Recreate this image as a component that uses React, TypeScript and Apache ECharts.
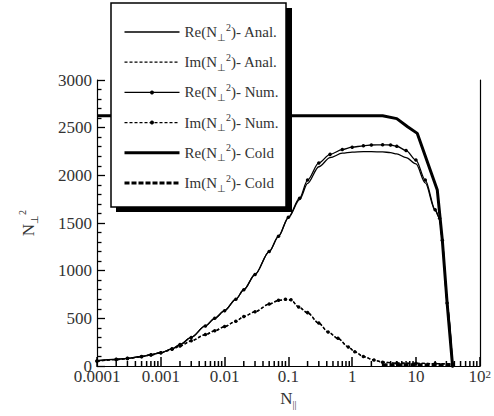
import React, { useEffect, useRef } from 'react';
import * as echarts from 'echarts';

// N_parallel values for the real-part curves
const reX = [0.0001, 0.0002, 0.0003, 0.0005, 0.0007, 0.001, 0.0015, 0.002, 0.003, 0.005, 0.007, 0.01, 0.015, 0.02, 0.03, 0.05, 0.07, 0.1, 0.15, 0.2, 0.3, 0.45, 0.7, 1, 1.5, 2, 3, 4, 5, 7, 10, 14, 20, 23.5, 25.9, 30.8, 37.5];
const reNum = [55, 70, 80, 100, 118, 140, 180, 225, 300, 420, 500, 580, 700, 800, 960, 1200, 1360, 1560, 1760, 1950, 2130, 2220, 2270, 2295, 2310, 2318, 2320, 2318, 2305, 2260, 2160, 1950, 1640, 1550, 1320, 660, 0];
const reAnal = [55, 70, 80, 100, 118, 140, 180, 225, 300, 420, 500, 580, 700, 800, 960, 1200, 1360, 1555, 1745, 1915, 2090, 2185, 2232, 2243, 2248, 2248, 2246, 2238, 2225, 2185, 2120, 1920, 1630, 1550, 1320, 660, 0];

// N_parallel values for the imaginary-part curves
const imX = [0.0001, 0.0002, 0.0003, 0.0005, 0.0007, 0.001, 0.0015, 0.002, 0.003, 0.005, 0.007, 0.01, 0.015, 0.02, 0.03, 0.05, 0.07, 0.09, 0.11, 0.145, 0.2, 0.3, 0.42, 0.6, 0.87, 1.1, 1.5, 2.2, 3, 5, 10, 20, 37.5];
const imNum = [50, 68, 78, 98, 115, 138, 175, 210, 265, 330, 370, 415, 470, 520, 570, 650, 690, 700, 695, 620, 560, 450, 357, 290, 200, 150, 100, 63, 40, 30, 28, 25, 20];
const imAnal = [50, 68, 78, 98, 115, 138, 175, 210, 262, 328, 368, 412, 468, 518, 568, 648, 686, 696, 690, 618, 556, 448, 355, 288, 200, 148, 98, 62, 40, 30, 28, 25, 20];

// Cold plasma curves
const coldX = [0.0001, 3, 5, 7.4, 10.5, 21.6, 25.9, 30.8, 37.5];
const reCold = [2625, 2625, 2595, 2510, 2440, 1845, 1320, 660, 0];
const imColdX = [3, 10, 37.5];
const imCold = [12, 12, 12];

const seriesNames = ['Re(N⊥²)- Anal.', 'Im(N⊥²)- Anal.', 'Re(N⊥²)- Num.', 'Im(N⊥²)- Num.', 'Re(N⊥²)- Cold', 'Im(N⊥²)- Cold'];
const xTickLabels = ['0.0001', '0.001', '0.01', '0.1', '1', '10', '10{sup|2}'];
const xDecades = [-4, -3, -2, -1, 0, 1];
const minorSteps = [2, 3, 4, 5, 6, 7, 8, 9];

const zip = (xs: number[], ys: number[]) => xs.map((x, i) => [x, ys[i]]);

export default function App() {
  const ref = useRef<HTMLDivElement>(null);
  useEffect(() => {
    const chart = echarts.init(ref.current!, null, { renderer: 'svg' });
    const font = 'Liberation Serif';
    const ink = '#000';
    const label = '#333';
    const minorTickData: number[][] = [];
    xDecades.forEach((d) => minorSteps.forEach((s) => minorTickData.push([s * Math.pow(10, d), 0])));
    const legendFormatter = (name: string) => {
      const m = name.match(/^(\w+)\(N⊥²\)- (.*)$/);
      if (!m) return name;
      return `{t|${m[1]}(N}{sub|⊥}{sup|2}{t|)- ${m[2]}}`;
    };
    const smallRich = {
      sub: { fontFamily: font, fontSize: 10, color: label, verticalAlign: 'bottom', lineHeight: 10 },
      sup: { fontFamily: font, fontSize: 10, color: label, verticalAlign: 'top', lineHeight: 10 },
    };
    const frameAxis = {
      axisLine: { show: true, lineStyle: { color: ink, width: 1.2 } },
      axisTick: { show: false },
      axisLabel: { show: false },
      splitLine: { show: false },
    };
    chart.setOption({
      animation: false,
      grid: { left: 97, right: 11, top: 80, bottom: 50 },
      xAxis: [
        {
          type: 'log',
          logBase: 10,
          min: 0.0001,
          max: 100,
          position: 'bottom',
          name: '{n|N}{sub|||}',
          nameLocation: 'middle',
          nameGap: 18,
          nameTextStyle: { rich: { n: { fontFamily: font, fontSize: 17, color: label, lineHeight: 22 }, ...smallRich } },
          axisLine: { lineStyle: { color: ink, width: 1.2 } },
          axisTick: { show: true, inside: true, length: 9, lineStyle: { color: ink, width: 1.5 } },
          splitLine: { show: false },
          axisLabel: {
            fontFamily: font,
            fontSize: 17,
            color: label,
            margin: 2,
            formatter: (v: number) => {
              const e = Math.round(Math.log10(v));
              return xTickLabels[e + 4] ?? '';
            },
            rich: { sup: { fontFamily: font, fontSize: 11, color: label, verticalAlign: 'top', lineHeight: 10 } },
          },
        },
        { type: 'log', logBase: 10, min: 0.0001, max: 100, position: 'top', ...frameAxis },
      ],
      yAxis: [
        {
          type: 'value',
          min: 0,
          max: 3000,
          interval: 500,
          position: 'left',
          name: '{n|N}{sub|⊥}{sup|2}',
          nameLocation: 'middle',
          nameRotate: 90,
          nameGap: 58,
          nameTextStyle: { rich: { n: { fontFamily: font, fontSize: 17, color: label, lineHeight: 22 }, ...smallRich } },
          axisLine: { show: true, lineStyle: { color: ink, width: 1.2 } },
          axisTick: { show: true, inside: true, length: 8, lineStyle: { color: ink, width: 1.3 } },
          minorTick: { show: true, splitNumber: 5, length: 4.5, lineStyle: { color: ink, width: 1.3 } },
          splitLine: { show: false },
          axisLabel: { fontFamily: font, fontSize: 17, color: label, margin: 5, formatter: (v: number) => String(v) },
        },
        { type: 'value', min: 0, max: 3000, interval: 500, position: 'right', ...frameAxis },
      ],
      legend: {
        orient: 'vertical',
        left: 123,
        top: 22,
        padding: 0,
        z: 6,
        itemWidth: 55,
        itemHeight: 5,
        itemGap: 10.2,
        selectedMode: false,
        formatter: legendFormatter,
        textStyle: {
          fontFamily: font,
          fontSize: 15,
          color: label,
          rich: {
            t: { fontFamily: font, fontSize: 15, color: label, lineHeight: 20 },
            ...smallRich,
          },
        },
        data: [
          { name: seriesNames[0], lineStyle: { width: 1.3 }, itemStyle: { opacity: 0 } },
          { name: seriesNames[1], lineStyle: { width: 1.3, type: [3, 2] }, itemStyle: { opacity: 0 } },
          { name: seriesNames[2], lineStyle: { width: 1.3 } },
          { name: seriesNames[3], lineStyle: { width: 1.3, type: [3, 2] } },
          { name: seriesNames[4], lineStyle: { width: 3 }, itemStyle: { opacity: 0 } },
          { name: seriesNames[5], lineStyle: { width: 3, type: [5, 2] }, itemStyle: { opacity: 0 } },
        ],
      },
      graphic: [
        { type: 'rect', z: 3, shape: { x: 116, y: 8, width: 176, height: 204 }, style: { fill: '#000' } },
        { type: 'rect', z: 4, shape: { x: 111, y: 3, width: 175, height: 204 }, style: { fill: '#fff', stroke: '#000', lineWidth: 1.5 } },
      ],
      series: [
        {
          name: seriesNames[0], type: 'line', data: zip(reX, reAnal), smooth: 0.3, smoothMonotone: 'x',
          symbol: 'none', lineStyle: { color: ink, width: 1.3 }, itemStyle: { color: ink }, z: 2,
        },
        {
          name: seriesNames[1], type: 'line', data: zip(imX, imAnal), smooth: 0.3, smoothMonotone: 'x',
          symbol: 'none', lineStyle: { color: ink, width: 1.3, type: [3, 2] }, itemStyle: { color: ink }, z: 2,
        },
        {
          name: seriesNames[2], type: 'line', data: zip(reX, reNum), smooth: 0.3, smoothMonotone: 'x',
          symbol: 'circle', symbolSize: 3.5, showSymbol: true, lineStyle: { color: ink, width: 1.3 }, itemStyle: { color: ink }, z: 2,
        },
        {
          name: seriesNames[3], type: 'line', data: zip(imX, imNum), smooth: 0.3, smoothMonotone: 'x',
          symbol: 'circle', symbolSize: 3.5, showSymbol: true, lineStyle: { color: ink, width: 1.3, type: [3, 2] }, itemStyle: { color: ink }, z: 2,
        },
        {
          name: seriesNames[4], type: 'line', data: zip(coldX, reCold),
          symbol: 'none', lineStyle: { color: ink, width: 3 }, itemStyle: { color: ink }, z: 2,
        },
        {
          name: seriesNames[5], type: 'line', data: zip(imColdX, imCold),
          symbol: 'none', lineStyle: { color: ink, width: 3, type: [5, 2] }, itemStyle: { color: ink }, z: 2,
        },
        {
          name: 'xMinorTicks',
          type: 'custom',
          data: minorTickData,
          encode: { x: 0, y: 1 },
          clip: false,
          z: 5,
          renderItem: (_params: any, api: any) => {
            const p = api.coord([api.value(0), api.value(1)]);
            return {
              type: 'line',
              shape: { x1: p[0], y1: p[1], x2: p[0], y2: p[1] - 5 },
              style: { stroke: ink, lineWidth: 1.5 },
            };
          },
        },
      ],
    });
    return () => chart.dispose();
  }, []);
  return <div ref={ref} style={{ position: 'fixed', left: 0, top: 0, width: 494, height: 416, background: '#fff' }} />;
}
